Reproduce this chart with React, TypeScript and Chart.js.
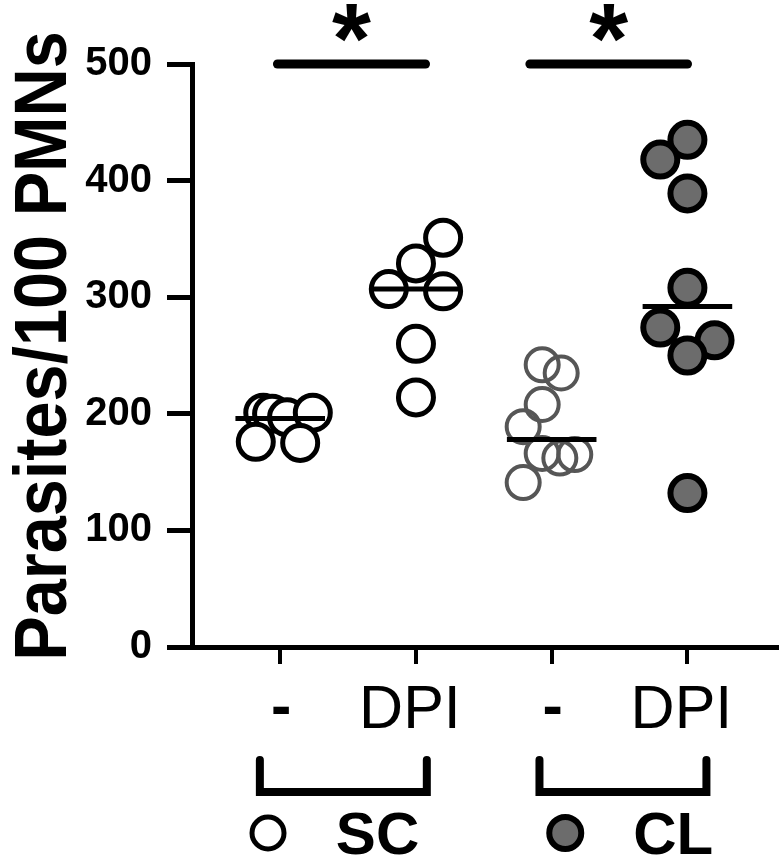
import React, { useEffect, useRef } from 'react';
import { Chart, registerables } from 'chart.js';

Chart.register(...registerables);

const FONT = "'Liberation Sans', Arial, Helvetica, sans-serif";

// Categories along the x axis (positions 1..4)
const xTickValues = [1, 2, 3, 4];
const categoryLabels = ['-', 'DPI', '-', 'DPI'];
const categoryBold = [true, false, true, false];

// Y axis
const yTickValues = [0, 100, 200, 300, 400, 500];
const yTitle = 'Parasites/100 PMNs';

// Series values (Parasites/100 PMNs) and horizontal jitter (category units)
const scNoneValues = [201, 200, 197, 201, 176, 175];
const scNoneJitter = [-0.125, -0.06, 0.05, 0.24, -0.18, 0.147];

const scDpiValues = [351, 329, 307, 305, 260, 214];
const scDpiJitter = [0.2, 0, -0.2, 0.2, 0, 0];

const clNoneValues = [242, 235, 208, 189, 166, 162, 165, 141];
const clNoneJitter = [-0.07, 0.07, -0.07, -0.21, -0.07, 0.06, 0.17, -0.21];

const clDpiValues = [435, 418, 389, 308, 274, 263, 250, 132];
const clDpiJitter = [0, -0.2, 0, 0, -0.2, 0.2, 0, 0];

// Median lines per category
const medians = [196, 307, 178, 292];

// Significance bars (start, end in category units) at value 500
const sigStart = [0.95, 2.81];
const sigEnd = [2.1, 4.03];
const sigValue = 500;
const sigLabels = ['*', '*'];

// Group brackets under the axis
const groupNames = ['SC', 'CL'];
const bracketStart = [0.85, 2.91];
const bracketEnd = [2.08, 4.14];
const legendMarkerX = [0.91, 3.1];
const legendTextX = [1.41, 3.6];

const SC_FILL = '#ffffff';
const SC_BORDER = '#000000';
const CLN_BORDER = '#565656';
const CL_FILL = '#6c6c6c';

function pts(values: number[], jitter: number[], pos: number) {
  return values.map((v, i) => ({ x: pos + jitter[i], y: v }));
}

const annotationPlugin = {
  id: 'annotations',
  afterDraw(chart: any) {
    const { ctx, scales } = chart;
    const x = scales.x;
    const y = scales.y;
    ctx.save();
    ctx.fillStyle = '#000';
    ctx.strokeStyle = '#000';

    // y axis title (drawn manually for tighter control of size/position)
    ctx.save();
    ctx.translate(66, 346);
    ctx.rotate(-Math.PI / 2);
    ctx.scale(0.9, 1);
    ctx.font = 'bold 74px ' + FONT;
    ctx.textAlign = 'center';
    ctx.textBaseline = 'alphabetic';
    ctx.fillText(yTitle, 0, 0);
    ctx.restore();

    // x category labels
    categoryLabels.forEach((lab, i) => {
      const px = x.getPixelForValue(xTickValues[i]);
      ctx.font = (categoryBold[i] ? 'bold ' : '') + '61px ' + FONT;
      ctx.textAlign = 'center';
      ctx.textBaseline = 'alphabetic';
      if (lab === '-') {
        ctx.fillText(lab, px + 1, 726);
      } else {
        ctx.fillText(lab, px - 6, 728);
      }
    });

    // significance bars and stars
    sigStart.forEach((s, i) => {
      const x1 = x.getPixelForValue(s);
      const x2 = x.getPixelForValue(sigEnd[i]);
      const py = y.getPixelForValue(sigValue);
      ctx.lineWidth = 9;
      ctx.lineCap = 'round';
      ctx.beginPath();
      ctx.moveTo(x1 + 4, py);
      ctx.lineTo(x2 - 4, py);
      ctx.stroke();
      ctx.font = 'bold 100px ' + FONT;
      ctx.textAlign = 'center';
      ctx.textBaseline = 'alphabetic';
      ctx.fillText(sigLabels[i], (x1 + x2) / 2, 73);
    });

    // brackets
    bracketStart.forEach((s, i) => {
      const x1 = x.getPixelForValue(s);
      const x2 = x.getPixelForValue(bracketEnd[i]);
      ctx.lineWidth = 8;
      ctx.lineCap = 'round';
      ctx.lineJoin = 'miter';
      ctx.beginPath();
      ctx.moveTo(x1, 760);
      ctx.lineTo(x1, 792);
      ctx.lineTo(x2, 792);
      ctx.lineTo(x2, 760);
      ctx.stroke();
    });

    // legend markers and names
    groupNames.forEach((name, i) => {
      const mx = x.getPixelForValue(legendMarkerX[i]);
      ctx.beginPath();
      ctx.arc(mx, 833, 16, 0, Math.PI * 2);
      ctx.fillStyle = i === 0 ? SC_FILL : CL_FILL;
      ctx.fill();
      ctx.lineWidth = i === 0 ? 5 : 6;
      ctx.strokeStyle = '#000';
      ctx.stroke();
      ctx.fillStyle = '#000';
      ctx.font = 'bold 60px ' + FONT;
      ctx.textAlign = 'left';
      ctx.textBaseline = 'alphabetic';
      ctx.fillText(name, x.getPixelForValue(legendTextX[i]), 854);
    });
    ctx.restore();
  },
};

export default function App() {
  const ref = useRef<HTMLCanvasElement>(null);
  useEffect(() => {
    document.body.style.margin = '0';
    const medianSets = medians.map((m, i) => ({
      data: [
        { x: xTickValues[i] - 0.33, y: m },
        { x: xTickValues[i] + 0.33, y: m },
      ],
      showLine: true,
      borderColor: '#000',
      borderWidth: 5,
      pointRadius: 0,
      fill: false,
    }));
    const chart = new Chart(ref.current as HTMLCanvasElement, {
      type: 'scatter',
      data: {
        datasets: [
          ...medianSets,
          {
            data: pts(scNoneValues, scNoneJitter, xTickValues[0]),
            pointRadius: 17.5,
            pointBorderWidth: 5,
            pointBackgroundColor: SC_FILL,
            pointBorderColor: SC_BORDER,
            backgroundColor: SC_FILL,
            borderColor: SC_BORDER,
          },
          {
            data: pts(scDpiValues, scDpiJitter, xTickValues[1]),
            pointRadius: 17.5,
            pointBorderWidth: 5,
            pointBackgroundColor: SC_FILL,
            pointBorderColor: SC_BORDER,
            backgroundColor: SC_FILL,
            borderColor: SC_BORDER,
          },
          {
            data: pts(clNoneValues, clNoneJitter, xTickValues[2]),
            pointRadius: 16.5,
            pointBorderWidth: 4,
            pointBackgroundColor: 'rgba(0,0,0,0)',
            pointBorderColor: CLN_BORDER,
            backgroundColor: 'rgba(0,0,0,0)',
            borderColor: CLN_BORDER,
          },
          {
            data: pts(clDpiValues, clDpiJitter, xTickValues[3]),
            pointRadius: 17,
            pointBorderWidth: 6,
            pointBackgroundColor: CL_FILL,
            pointBorderColor: '#000',
            backgroundColor: CL_FILL,
            borderColor: '#000',
          },
        ] as any,
      },
      options: {
        animation: false,
        responsive: false,
        layout: { autoPadding: false, padding: { top: 64, right: 3, left: 0, bottom: 0 } },
        plugins: { legend: { display: false }, tooltip: { enabled: false } },
        scales: {
          x: {
            type: 'linear',
            min: 0.35,
            max: 4.66,
            afterBuildTicks: (s: any) => {
              s.ticks = xTickValues.map((v) => ({ value: v }));
            },
            afterFit: (s: any) => {
              s.height = 213;
            },
            ticks: { display: false },
            grid: {
              display: true,
              drawOnChartArea: false,
              drawTicks: true,
              tickLength: 17,
              tickWidth: 4,
              lineWidth: 4,
              color: '#000',
            },
            border: { display: true, color: '#000', width: 5 },
          },
          y: {
            type: 'linear',
            min: 0,
            max: 500,
            afterBuildTicks: (s: any) => {
              s.ticks = yTickValues.map((v) => ({ value: v }));
            },
            afterFit: (s: any) => {
              s.width = 192;
            },
            ticks: {
              color: '#000',
              padding: 15,
              font: { family: FONT, size: 40, weight: 'bold' },
            },
            grid: {
              display: true,
              drawOnChartArea: false,
              drawTicks: true,
              tickLength: 25,
              tickWidth: 5,
              lineWidth: 5,
              color: '#000',
            },
            border: { display: true, color: '#000', width: 5 },
            title: { display: false, text: yTitle },
          },
        },
      } as any,
      plugins: [annotationPlugin],
    });
    return () => chart.destroy();
  }, []);
  return (
    <div style={{ width: 780, height: 860, position: 'relative' }}>
      <canvas ref={ref} width={780} height={860} style={{ display: 'block', width: 780, height: 860 }} />
    </div>
  );
}
